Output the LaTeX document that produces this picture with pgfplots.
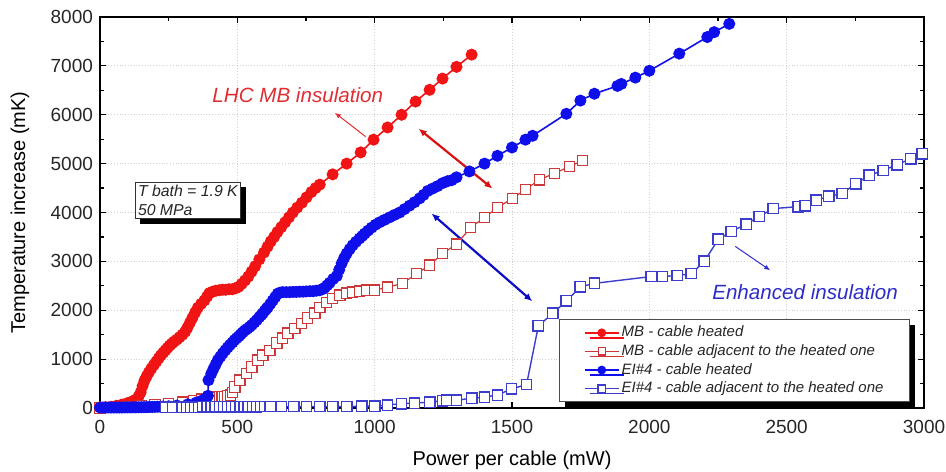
\documentclass[border=0pt]{standalone}
\usepackage{pgfplots}
\pgfplotsset{compat=1.18}
\usepackage{fontspec}
\setmainfont{Liberation Sans}
\usetikzlibrary{arrows.meta,shadows}
\definecolor{mbred}{RGB}{240,20,20}
\definecolor{mbadj}{RGB}{205,55,55}
\definecolor{eiblue}{RGB}{15,15,235}
\definecolor{eiadj}{RGB}{60,60,205}
\definecolor{txtred}{RGB}{225,45,50}
\definecolor{txtblue}{RGB}{45,45,200}
\begin{document}
\begin{tikzpicture}
\path[use as bounding box] (-50pt,-31.5pt) rectangle (423pt,204pt);
\begin{axis}[
  at={(0pt,0pt)}, anchor=south west,
  scale only axis, width=412pt, height=195.5pt,
  xmin=0, xmax=3000, ymin=0, ymax=8000,
  xtick={0,500,...,3000}, ytick={0,1000,...,8000},
  minor x tick num=1, minor y tick num=1,
  tick align=inside,
  major tick length=3pt, minor tick length=2pt,
  axis line style={line width=0.7pt},
  every tick/.style={black, line width=0.6pt},
  grid=major,
  major grid style={densely dotted, gray!35, line width=0.5pt},
  /pgf/number format/1000 sep={},
  /pgf/number format/assume math mode=true,
  tick label style={font=\fontsize{9.5}{11}\selectfont, text=black!85},
  xticklabel style={yshift=-2.5pt},
  xlabel={Power per cable (mW)},
  ylabel={Temperature increase (mK)},
  label style={font=\fontsize{10}{12}\selectfont, text=black!85},
  every axis x label/.style={at={(rel axis cs:0.5,0)}, yshift=-26pt, anchor=center},
  every axis y label/.style={at={(rel axis cs:0,0.5)}, xshift=-40pt, rotate=90, anchor=center},
  legend cell align=left,
  legend style={at={(rel axis cs:0.983,0.015)}, anchor=south east,
    draw=black!70, line width=0.5pt, fill=white,
    font=\itshape\fontsize{7.5}{9}\selectfont, text=black!85,
    inner xsep=12pt, inner ysep=2pt, row sep=0.3pt,
    nodes={inner sep=1pt, text height=5.5pt, text depth=1.5pt},
    drop shadow={shadow xshift=2.5pt, shadow yshift=-2.5pt, fill=black, opacity=1}},
  every legend image post/.append style={mark size=1.8pt},
]
% MB - cable heated
\addplot[color=mbred, line width=0.8pt, mark=*, mark size=2.6pt, mark options={fill=mbred, draw=mbred}] coordinates {
(0,10)(20,15)(40,25)(60,45)(80,70)(100,100)(115,130)(130,170)(140,230)(148,320)(155,450)(162,560)(170,650)(178,730)(187,810)(196,880)(205,950)(214,1020)(222,1080)(230,1130)(238,1180)(246,1230)(254,1280)(262,1320)(270,1360)(280,1400)(290,1450)(300,1500)(310,1560)(318,1640)(327,1740)(336,1840)(346,1950)(356,2050)(368,2130)(380,2200)(390,2280)(398,2350)(410,2380)(422,2400)(434,2410)(446,2420)(458,2420)(470,2430)(482,2430)(494,2450)(505,2480)(516,2540)(528,2610)(540,2690)(552,2790)(565,2900)(580,3040)(597,3180)(610,3300)(622,3410)(634,3500)(646,3600)(660,3700)(674,3800)(688,3900)(702,4000)(718,4100)(735,4200)(752,4310)(770,4420)(785,4500)(800,4570)(847,4780)(898,5000)(949,5230)(996,5490)(1047,5740)(1098,6000)(1149,6270)(1200,6510)(1247,6740)(1298,6980)(1353,7230)
};
\addlegendentry{MB - cable heated}
% MB - cable adjacent
\addplot[color=mbadj, line width=0.6pt, mark=square*, mark size=2.6pt, mark options={fill=white, draw=mbadj}] coordinates {
(0,0)(50,10)(100,20)(150,40)(200,60)(250,90)(300,120)(340,150)(370,180)(395,200)(405,210)(415,215)(425,220)(435,225)(445,230)(455,235)(465,245)(475,260)(483,320)(491,430)(509,570)(534,710)(553,840)(575,980)(593,1080)(618,1180)(644,1330)(665,1430)(684,1530)(709,1630)(734,1730)(756,1840)(782,1940)(800,2060)(825,2160)(847,2240)(873,2310)(898,2350)(920,2370)(945,2390)(971,2410)(1000,2410)(1047,2470)(1102,2550)(1153,2750)(1200,2920)(1247,3160)(1298,3350)(1349,3690)(1400,3900)(1447,4100)(1502,4290)(1549,4470)(1600,4670)(1654,4800)(1709,4940)(1756,5060)
};
\addlegendentry{MB - cable adjacent to the heated one}
% EI#4 - cable heated
\addplot[color=eiblue, line width=0.8pt, mark=*, mark size=2.6pt, mark options={fill=eiblue, draw=eiblue}] coordinates {
(0,10)(10,10)(20,10)(30,10)(40,10)(50,10)(60,10)(70,10)(80,10)(90,12)(100,12)(110,12)(120,14)(130,14)(140,15)(150,16)(160,17)(170,18)(180,20)(190,22)(200,24)(210,26)(220,28)(230,30)(250,35)(280,50)(320,75)(350,110)(370,150)(385,200)(393,250)(395,570)(405,700)(413,800)(421,890)(429,980)(438,1050)(447,1120)(456,1180)(465,1240)(473,1290)(482,1340)(490,1390)(498,1430)(506,1470)(513,1510)(520,1550)(528,1590)(536,1620)(545,1660)(553,1700)(562,1750)(571,1800)(580,1860)(587,1900)(593,1940)(600,1990)(606,2030)(611,2060)(620,2130)(629,2200)(638,2270)(647,2340)(656,2360)(665,2370)(678,2370)(691,2370)(703,2375)(715,2375)(727,2380)(739,2380)(751,2385)(764,2390)(776,2390)(788,2400)(800,2410)(810,2430)(818,2460)(827,2510)(836,2560)(849,2640)(862,2700)(871,2830)(880,2960)(889,3070)(898,3160)(909,3250)(920,3330)(932,3400)(945,3470)(955,3520)(964,3570)(976,3630)(989,3690)(1003,3750)(1018,3800)(1036,3850)(1054,3900)(1072,3950)(1091,4000)(1109,4070)(1127,4140)(1145,4210)(1164,4290)(1178,4360)(1193,4440)(1211,4490)(1229,4540)(1247,4600)(1265,4640)(1280,4660)(1298,4720)(1345,4840)(1400,5000)(1447,5160)(1500,5330)(1549,5490)(1575,5570)(1698,6020)(1749,6290)(1800,6430)(1884,6590)(1898,6630)(1949,6760)(2000,6900)(2109,7250)(2211,7590)(2236,7690)(2291,7860)
};
\addlegendentry{EI\#4 - cable heated}
% EI#4 - cable adjacent
\addplot[color=eiadj, line width=0.7pt, mark=square*, mark size=2.6pt, mark options={fill=white, draw=eiadj}] coordinates {
(240,15)(265,15)(300,20)(315,20)(330,20)(345,20)(360,20)(375,25)(390,25)(405,25)(420,25)(435,25)(450,25)(465,25)(480,25)(495,25)(510,25)(525,25)(540,25)(555,25)(570,25)(585,30)(600,30)(620,30)(660,30)(705,30)(752,30)(800,30)(847,30)(898,30)(953,35)(1000,40)(1047,60)(1098,90)(1145,100)(1200,120)(1247,150)(1262,160)(1298,160)(1353,200)(1400,225)(1447,265)(1498,390)(1553,480)(1596,1680)(1649,1940)(1698,2190)(1749,2480)(1800,2550)(2007,2690)(2047,2690)(2102,2710)(2153,2750)(2200,3000)(2251,3450)(2298,3610)(2352,3760)(2400,3920)(2451,4080)(2542,4120)(2567,4140)(2607,4250)(2654,4330)(2702,4390)(2752,4590)(2800,4760)(2851,4860)(2902,4980)(2952,5100)(2993,5200)
};
\addlegendentry{EI\#4 - cable adjacent to the heated one}
% annotations
\node[text=txtred, font=\itshape\fontsize{10.3}{12}\selectfont] at (axis cs:720,6409) {LHC MB insulation};
\node[text=txtblue, font=\itshape\fontsize{10.3}{12}\selectfont] at (axis cs:2567,2368) {Enhanced insulation};
\draw[txtred, line width=0.5pt, -{Latex[length=3pt,width=2.5pt]}] (axis cs:967,5552) -- (axis cs:855,6041);
\draw[mbred!90!black, line width=1.1pt, {Latex[length=4pt,width=3.5pt]}-{Latex[length=4pt,width=3.5pt]}] (axis cs:1160,5715) -- (axis cs:1429,4490);
\draw[eiblue!85!black, line width=1.1pt, {Latex[length=4pt,width=3.5pt]}-{Latex[length=4pt,width=3.5pt]}] (axis cs:1207,3980) -- (axis cs:1574,2184);
\draw[txtblue, line width=0.5pt, -{Latex[length=3pt,width=2.5pt]}] (axis cs:2313,3306) -- (axis cs:2440,2817);
\node[draw=black!80, line width=0.5pt, fill=white, align=left, inner xsep=1.5pt, inner ysep=1.5pt,
  font=\itshape\fontsize{7.9}{9.5}\selectfont, text=black!85,
  drop shadow={shadow xshift=2.5pt, shadow yshift=-2.5pt, fill=black, opacity=1}]
  at (axis cs:320,4245) {T bath = 1.9 K\\50 MPa};
\end{axis}
\end{tikzpicture}
\end{document}
